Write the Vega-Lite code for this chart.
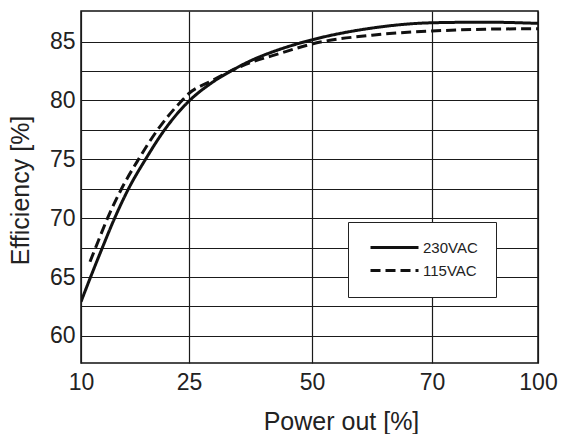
{
  "$schema": "https://vega.github.io/schema/vega-lite/v6.json",
  "width": 457,
  "height": 352,
  "autosize": "none",
  "padding": {"left": 81, "top": 11, "right": 25, "bottom": 71},
  "background": "white",
  "config": {
    "font": "Liberation Sans",
    "view": {"stroke": "#111", "strokeWidth": 1.5},
    "axis": {
      "domain": false,
      "ticks": false,
      "grid": true,
      "gridColor": "#1a1a1a",
      "gridWidth": 1.2,
      "gridOpacity": 1,
      "labelFont": "Liberation Sans",
      "labelFontSize": 23,
      "labelColor": "#222",
      "titleFont": "Liberation Sans",
      "titleFontSize": 25,
      "titleFontWeight": "normal",
      "titleColor": "#222"
    }
  },
  "data": {
    "values": [
      {"power": 10, "eff": 62.9, "series": "230VAC"},
      {"power": 11.33, "eff": 65.0, "series": "230VAC"},
      {"power": 12.97, "eff": 67.5, "series": "230VAC"},
      {"power": 14.67, "eff": 70.0, "series": "230VAC"},
      {"power": 16.6, "eff": 72.5, "series": "230VAC"},
      {"power": 18.96, "eff": 75.0, "series": "230VAC"},
      {"power": 21.6, "eff": 77.5, "series": "230VAC"},
      {"power": 25, "eff": 79.95, "series": "230VAC"},
      {"power": 29.27, "eff": 81.4, "series": "230VAC"},
      {"power": 33.94, "eff": 82.6, "series": "230VAC"},
      {"power": 37.4, "eff": 83.35, "series": "230VAC"},
      {"power": 43.5, "eff": 84.35, "series": "230VAC"},
      {"power": 50, "eff": 85.15, "series": "230VAC"},
      {"power": 60, "eff": 86.15, "series": "230VAC"},
      {"power": 70, "eff": 86.6, "series": "230VAC"},
      {"power": 85, "eff": 86.65, "series": "230VAC"},
      {"power": 100, "eff": 86.55, "series": "230VAC"},
      {"power": 11.25, "eff": 66.3, "series": "115VAC"},
      {"power": 12.03, "eff": 67.5, "series": "115VAC"},
      {"power": 13.69, "eff": 70.0, "series": "115VAC"},
      {"power": 15.63, "eff": 72.5, "series": "115VAC"},
      {"power": 17.99, "eff": 75.0, "series": "115VAC"},
      {"power": 20.63, "eff": 77.5, "series": "115VAC"},
      {"power": 24.03, "eff": 80.0, "series": "115VAC"},
      {"power": 25, "eff": 80.6, "series": "115VAC"},
      {"power": 29.27, "eff": 81.6, "series": "115VAC"},
      {"power": 33.94, "eff": 82.6, "series": "115VAC"},
      {"power": 37.4, "eff": 83.2, "series": "115VAC"},
      {"power": 43.5, "eff": 84.0, "series": "115VAC"},
      {"power": 50, "eff": 84.8, "series": "115VAC"},
      {"power": 60, "eff": 85.55, "series": "115VAC"},
      {"power": 70, "eff": 85.9, "series": "115VAC"},
      {"power": 85, "eff": 86.05, "series": "115VAC"},
      {"power": 100, "eff": 86.1, "series": "115VAC"}
    ]
  },
  "mark": {"type": "line", "interpolate": "monotone", "strokeWidth": 3, "color": "#111", "clip": true},
  "encoding": {
    "x": {
      "field": "power",
      "type": "quantitative",
      "scale": {"domain": [10, 25, 50, 70, 100], "range": [0, 108, 231, 351, 457]},
      "axis": {
        "values": [10, 25, 50, 70, 100],
        "title": "Power out [%]",
        "labelPadding": 8,
        "titlePadding": 15,
        "titleX": 260,
        "labelFlush": false
      }
    },
    "y": {
      "field": "eff",
      "type": "quantitative",
      "scale": {"domain": [57.7, 87.6], "nice": false, "zero": false},
      "axis": {
        "values": [60, 62.5, 65, 67.5, 70, 72.5, 75, 77.5, 80, 82.5, 85],
        "labelExpr": "datum.value % 5 === 0 ? datum.label : ''",
        "title": "Efficiency [%]",
        "labelPadding": 6,
        "titlePadding": 16,
        "titleY": 179
      }
    },
    "strokeDash": {
      "field": "series",
      "type": "nominal",
      "scale": {"domain": ["230VAC", "115VAC"], "range": [[1, 0], [10, 5]]},
      "legend": {
        "title": null,
        "orient": "none",
        "legendX": 267,
        "legendY": 211,
        "symbolType": "M-4,0H4",
        "symbolSize": 144,
        "symbolOffset": 21,
        "symbolStrokeWidth": 3,
        "symbolStrokeColor": "#111",
        "labelFont": "Liberation Sans",
        "labelFontSize": 15,
        "labelColor": "#222",
        "labelOffset": 21,
        "strokeColor": "#222",
        "fillColor": "white",
        "padding": 18,
        "rowPadding": 7
      }
    }
  }
}
